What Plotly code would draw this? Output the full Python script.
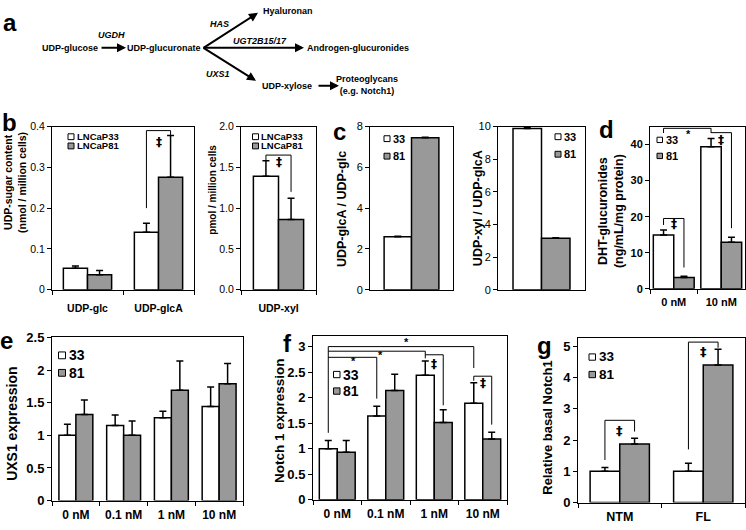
import plotly.graph_objects as go

W, H = 746, 530
FONT = "Liberation Sans, Arial, Helvetica, sans-serif"
SYM_FONT = "DejaVu Sans, Liberation Sans, sans-serif"
WHITE_FILL = "#ffffff"
GRAY_FILL = "#999999"

# ---------------- data ----------------
b1_categories = ["UDP-glc", "UDP-glcA"]
b1_lncap33 = [0.053, 0.141]
b1_lncap33_err = [0.005, 0.022]
b1_lncap81 = [0.037, 0.276]
b1_lncap81_err = [0.010, 0.102]

b2_categories = ["UDP-xyl"]
b2_lncap33 = [1.39]
b2_lncap33_err = [0.19]
b2_lncap81 = [0.86]
b2_lncap81_err = [0.26]

c1_categories = ["glcA/glc"]
c1_33 = [2.6]
c1_33_err = [0.02]
c1_81 = [7.45]
c1_81_err = [0.03]

c2_categories = ["xyl/glcA"]
c2_33 = [9.88]
c2_33_err = [0.06]
c2_81 = [3.15]
c2_81_err = [0.04]

d_categories = ["0 nM", "10 nM"]
d_33 = [14.9, 39.4]
d_33_err = [1.4, 2.3]
d_81 = [3.1, 12.9]
d_81_err = [0.4, 1.4]

e_categories = ["0 nM", "0.1 nM", "1 nM", "10 nM"]
e_33 = [1.0, 1.15, 1.27, 1.44]
e_33_err = [0.17, 0.16, 0.10, 0.30]
e_81 = [1.32, 1.0, 1.69, 1.79]
e_81_err = [0.22, 0.22, 0.45, 0.31]

f_categories = ["0 nM", "0.1 nM", "1 nM", "10 nM"]
f_33 = [1.0, 1.64, 2.44, 1.89]
f_33_err = [0.16, 0.19, 0.28, 0.40]
f_81 = [0.93, 2.14, 1.51, 1.19]
f_81_err = [0.23, 0.32, 0.25, 0.13]

g_categories = ["NTM", "FL"]
g_33 = [1.0, 1.0]
g_33_err = [0.12, 0.26]
g_81 = [1.87, 4.4]
g_81_err = [0.19, 0.5]

fig = go.Figure()
layout_axes = {}
shapes = []
annotations = []
bar_w = {}


def names(i):
    s = "" if i == 1 else str(i)
    return "xaxis" + s, "yaxis" + s, "x" + s, "y" + s


def add_panel(i, box, cats, v33, e33, v81, e81, gap, yrange, dtick, yfmt,
              ybold, ysize, xsize, xlabels, xticks, xstandoff):
    xa, ya, xr, yr = names(i)
    w = (1 - gap) / 2
    bar_w[i] = w
    for vals, errs, fill, off in ((v33, e33, WHITE_FILL, -w), (v81, e81, GRAY_FILL, 0.0)):
        fig.add_trace(go.Bar(
            x=cats, y=vals, width=w, offset=off, xaxis=xr, yaxis=yr,
            marker=dict(color=fill, line=dict(color="black", width=1.5)),
            error_y=dict(type="data", symmetric=False, array=errs,
                         arrayminus=[0] * len(errs), color="black",
                         thickness=1.5, width=3.5),
            showlegend=False, hoverinfo="skip"))
    x0, x1, y0, y1 = box
    layout_axes[xa] = dict(
        domain=[x0 / W, x1 / W], anchor=yr, type="category",
        range=[-0.5, len(cats) - 0.5], showline=True, linecolor="black",
        linewidth=1, mirror=True, showgrid=False, zeroline=False,
        ticks="outside" if xticks else "", tickson="boundaries", ticklen=4,
        tickcolor="black", showticklabels=xlabels, ticklabelstandoff=xstandoff,
        tickangle=0,
        tickfont=dict(family=FONT, size=xsize, color="black", weight="bold"))
    layout_axes[ya] = dict(
        domain=[1 - y1 / H, 1 - y0 / H], anchor=xr, range=yrange, dtick=dtick,
        tick0=0, tickformat=yfmt, showline=True, linecolor="black",
        linewidth=1, mirror=True, showgrid=False, zeroline=False,
        ticks="outside", ticklen=4, tickcolor="black",
        tickfont=dict(family=FONT, size=ysize, color="black",
                      weight="bold" if ybold else "normal"))


add_panel(1, (52, 194, 123, 291), b1_categories, b1_lncap33, b1_lncap33_err,
          b1_lncap81, b1_lncap81_err, 0.32, [0, 0.4], 0.1, "", False, 10.5, 10.5,
          True, True, 9)
add_panel(2, (241, 316, 123, 291), b2_categories, b2_lncap33, b2_lncap33_err,
          b2_lncap81, b2_lncap81_err, 0.33, [0, 2.0], 0.5, ".1f", False, 10.5, 10.5,
          True, True, 9)
add_panel(3, (370, 453, 123, 291), c1_categories, c1_33, c1_33_err,
          c1_81, c1_81_err, 0.34, [0, 8], 2, "", False, 11, 10.5, False, False, 0)
add_panel(4, (498, 585, 123, 291), c2_categories, c2_33, c2_33_err,
          c2_81, c2_81_err, 0.345, [0, 10], 2, "", False, 11, 10.5, False, False, 0)
add_panel(5, (650, 745, 123, 290), d_categories, d_33, d_33_err,
          d_81, d_81_err, 0.14, [0, 45], 10, "", True, 11, 11, True, True, 3)
add_panel(6, (52, 243, 340, 508), e_categories, e_33, e_33_err,
          e_81, e_81_err, 0.29, [0, 2.5], 0.5, "", True, 13, 12, True, True, 3)
add_panel(7, (313, 507, 339, 507), f_categories, f_33, f_33_err,
          f_81, f_81_err, 0.26, [0, 3.2], 0.5, "", True, 13, 12, True, True, 3)
add_panel(8, (578, 745, 341, 510), g_categories, g_33, g_33_err,
          g_81, g_81_err, 0.29, [0, 5.25], 1, "", True, 13, 12.5, True, True, 2)


def wpos(i, k):
    return k - bar_w[i] / 2


def gpos(i, k):
    return k + bar_w[i] / 2


def bracket(i, xl, xr, ytop, yl_bot, yr_bot):
    _, _, xref, yref = names(i)
    ln = dict(color="black", width=1)
    shapes.append(dict(type="line", xref=xref, yref=yref, x0=xl, x1=xr, y0=ytop, y1=ytop, line=ln))
    if yl_bot != ytop:
        shapes.append(dict(type="line", xref=xref, yref=yref, x0=xl, x1=xl, y0=yl_bot, y1=ytop, line=ln))
    if yr_bot != ytop:
        shapes.append(dict(type="line", xref=xref, yref=yref, x0=xr, x1=xr, y0=yr_bot, y1=ytop, line=ln))


def mark(i, x, y, text, size=12):
    _, _, xref, yref = names(i)
    fam = SYM_FONT if text == "‡" else FONT
    annotations.append(dict(x=x, y=y, xref=xref, yref=yref, text="<b>" + text + "</b>",
                            showarrow=False, font=dict(family=fam, size=size, color="black"),
                            xanchor="center", yanchor="middle"))


def text_px(x, y, text, size, bold=True, italic=False, family=FONT, angle=0, xanchor="center"):
    t = text
    if bold:
        t = "<b>" + t + "</b>"
    if italic:
        t = "<i>" + t + "</i>"
    annotations.append(dict(x=x / W, y=1 - y / H, xref="paper", yref="paper", text=t,
                            showarrow=False, textangle=angle, xanchor=xanchor,
                            yanchor="middle", font=dict(family=family, size=size, color="black")))


def arrow(xt, yt, xh, yh):
    annotations.append(dict(x=xh / W, y=1 - yh / H, xref="paper", yref="paper",
                            ax=xt - xh, ay=yt - yh, axref="pixel", ayref="pixel",
                            text="", showarrow=True, arrowhead=2, arrowsize=0.9,
                            arrowwidth=2, arrowcolor="black", standoff=0, startstandoff=0))


def legend_key(x, ytop, size, fill, label, tx, ty, fsize):
    shapes.append(dict(type="rect", xref="paper", yref="paper", x0=x / W, x1=(x + size) / W,
                       y0=1 - (ytop + size) / H, y1=1 - ytop / H, fillcolor=fill,
                       line=dict(color="black", width=1)))
    text_px(tx, ty, label, fsize, xanchor="left")


# ---------- significance brackets ----------
bracket(1, wpos(1, 1), gpos(1, 1), 0.39, 0.20, 0.378)
mark(1, 1.0, 0.362, "‡")

bracket(2, wpos(2, 0), gpos(2, 0), 1.65, 1.58, 1.20)
mark(2, 0.0, 1.56, "‡")

bracket(5, wpos(5, 0), wpos(5, 1), 44.5, 43.2, 43.2)
mark(5, 0.3, 42.9, "*", 11)
bracket(5, wpos(5, 1), gpos(5, 1), 43.3, 43.3, 16.8)
mark(5, 1.0, 41.2, "‡")
bracket(5, wpos(5, 0), gpos(5, 0), 19.5, 17.7, 5.9)
mark(5, 0.0, 18.1, "‡")

bracket(7, wpos(7, 0), wpos(7, 3), 3.0, 1.31, 2.58)
mark(7, 1.42, 3.09, "*", 11)
bracket(7, wpos(7, 0), wpos(7, 2), 2.91, 2.91, 2.77)
bracket(7, wpos(7, 2), gpos(7, 2), 2.84, 2.84, 1.85)
mark(7, 2.0, 2.65, "‡")
bracket(7, wpos(7, 0), wpos(7, 1), 2.79, 2.79, 1.98)
mark(7, 0.9, 2.83, "*", 11)
mark(7, 0.33, 2.72, "*", 11)
bracket(7, wpos(7, 3), gpos(7, 3), 2.42, 2.33, 1.47)
mark(7, 3.0, 2.28, "‡")

bracket(8, wpos(8, 0), gpos(8, 0), 2.63, 1.36, 2.27)
mark(8, 0.0, 2.3, "‡", 13)
bracket(8, wpos(8, 1), gpos(8, 1), 5.13, 1.70, 4.95)
mark(8, 1.0, 4.83, "‡", 13)

# ---------- legends ----------
for (x, y1, y2, s, tx, t1, t2, fs, lab) in [
    (68, 130.5, 140, 6, 74.5, 133.5, 143, 9.5, ("LNCaP33", "LNCaP81")),
    (252.5, 130.5, 140, 6, 259, 133.5, 143, 9.5, ("LNCaP33", "LNCaP81")),
    (384, 132.5, 150.5, 6, 391, 135.5, 153.5, 11, ("33", "81")),
    (555, 130.5, 148.5, 6, 562, 133.5, 151.5, 11, ("33", "81")),
    (657, 134, 150.5, 5.5, 663.5, 137, 153.5, 11, ("33", "81")),
    (58.5, 355, 373, 7, 66.5, 358.5, 376.5, 14, ("33", "81")),
    (333.5, 375, 392, 6.5, 341, 378.5, 395.5, 14, ("33", "81")),
    (589, 357, 375, 6.5, 596.5, 360, 378.5, 13.5, ("33", "81")),
]:
    legend_key(x, y1, s, WHITE_FILL, lab[0], tx, t1, fs)
    legend_key(x, y2, s, GRAY_FILL, lab[1], tx, t2, fs)

# ---------- axis titles ----------
text_px(15, 181, "UDP-sugar content<br>(nmol / million cells)", 10.5, angle=-90)
text_px(213, 188, "pmol / million cells", 10, angle=-90)
text_px(342, 208, "UDP-glcA / UDP-glc", 12.5, angle=-90)
text_px(478, 207, "UDP-xyl / UDP-glcA", 12.5, angle=-90)
text_px(611, 210, "DHT-glucuronides<br>(ng/mL/mg protein)", 12.5, angle=-90)
text_px(12, 429, "UXS1 expression", 14, angle=-90)
text_px(280, 426, "Notch 1 expression", 13.5, angle=-90)
text_px(548, 433, "Relative basal Notch1", 13, angle=-90)

# ---------- panel letters ----------
for letter, x, y in [("a", 10, 16), ("b", 9, 119), ("c", 339, 128), ("d", 606, 126),
                     ("e", 7, 343), ("f", 287, 346), ("g", 544, 348)]:
    text_px(x, y, letter, 24)

# ---------- pathway diagram (panel a) ----------
DF = 9
text_px(69.5, 42, "UDP-glucose", DF)
arrow(100, 42, 126, 42)
text_px(112, 29, "UGDH", DF, italic=True)
text_px(164, 42, "UDP-glucuronate", DF)
arrow(202, 42, 258, 6)
arrow(202, 42, 304, 42)
arrow(202, 42, 256, 76)
text_px(220, 17, "HAS", DF, italic=True)
text_px(260, 35, "UGT2B15/17", DF, italic=True)
text_px(218, 69, "UXS1", DF, italic=True)
text_px(287.5, 4, "Hyaluronan", DF)
text_px(358, 42, "Androgen-glucuronides", DF)
text_px(287, 81, "UDP-xylose", DF)
arrow(317, 81, 339, 81)
text_px(367, 80.5, "Proteoglycans<br>(e.g. Notch1)", DF)

fig.update_layout(
    width=W, height=H, margin=dict(l=0, r=0, t=0, b=0),
    paper_bgcolor="white", plot_bgcolor="white", barmode="overlay",
    showlegend=False, font=dict(family=FONT, color="black"),
    shapes=shapes, annotations=annotations, **layout_axes)

fig.write_html("out.html", config={"displayModeBar": False},
               post_script="document.body.style.margin='0';document.body.style.overflow='hidden';")
